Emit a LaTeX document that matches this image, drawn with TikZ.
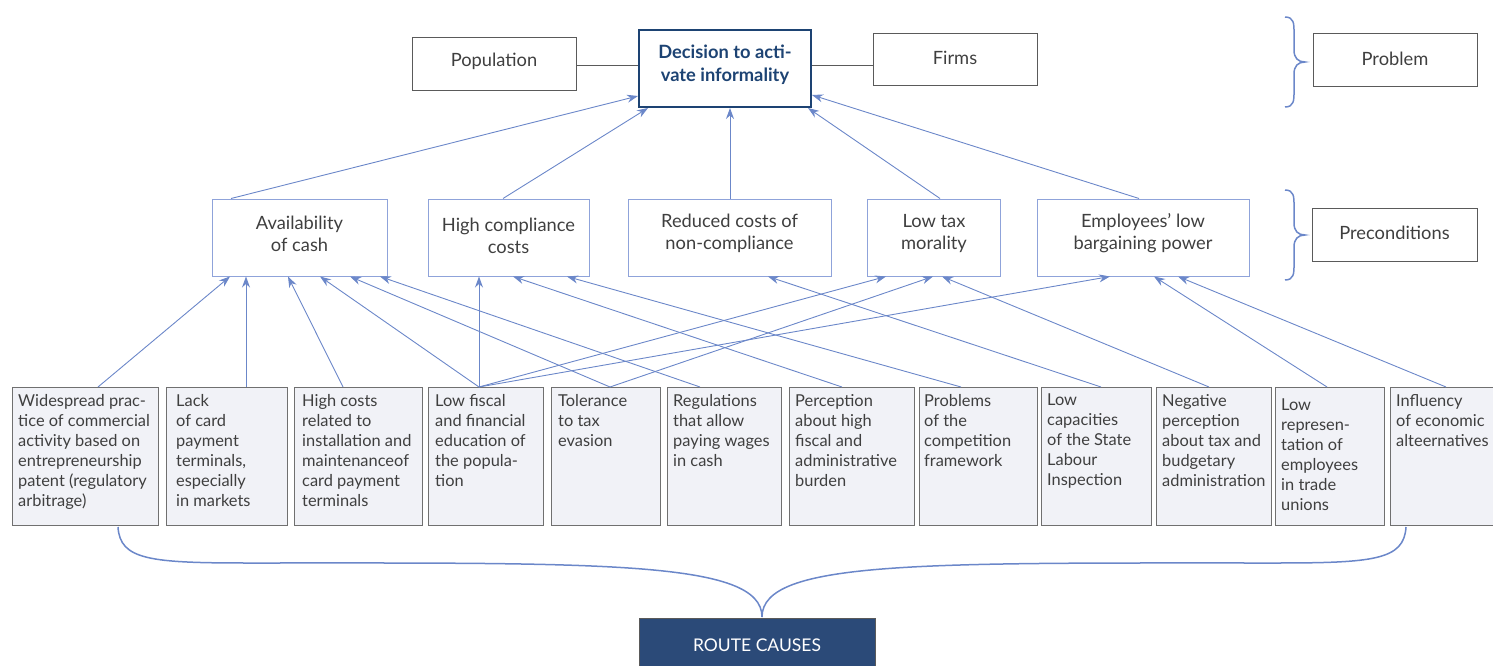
\documentclass[tikz,border=0pt]{standalone}
\usepackage{fontspec}
\setmainfont{Lato}
\usetikzlibrary{arrows.meta,calc}
\definecolor{conn}{HTML}{6B87C9}
\definecolor{pcborder}{HTML}{8FA3DA}
\definecolor{navy}{HTML}{1D4373}
\definecolor{navyfill}{HTML}{2B4A78}
\definecolor{causefill}{HTML}{F1F2F7}
\definecolor{causeborder}{HTML}{707070}
\definecolor{grayborder}{HTML}{5A5A5A}
\definecolor{txt}{HTML}{3F3F3F}
\begin{document}
\begin{tikzpicture}[x=1pt,y=-1pt,
  graybox/.style={draw=grayborder, line width=1pt, inner sep=0pt},
  decbox/.style={draw=navy, line width=2pt, inner sep=0pt},
  pcbox/.style={draw=pcborder, line width=1pt, inner sep=0pt},
  boxtext/.style={text=txt, align=center, inner sep=0pt,
    font=\fontsize{18.3}{22}\selectfont},
  dectext/.style={text=navy, align=center, inner sep=0pt,
    font=\fontsize{18.3}{23}\selectfont\bfseries},
  causebox/.style={draw=causeborder, line width=1.3pt, fill=causefill,
    anchor=north west, inner sep=0pt, minimum height=138pt},
  causetext/.style={anchor=north west, inner sep=0pt, align=left, text=txt,
    font=\fontsize{16.4}{20}\selectfont},
  arr/.style={-{Stealth[length=11pt,width=8pt]}, draw=conn, line width=0.9pt},
  link/.style={draw=grayborder, line width=0.8pt},
  brace/.style={draw=conn, line width=1.5pt}
]
\useasboundingbox (0,0) rectangle (1493,666);

% top row
\node[graybox, minimum width=164pt, minimum height=53pt] (pop) at (494,64.5) {};
\node[boxtext] (popt) at ($(pop)+(0,-3)$) {Population};
\node[decbox, minimum width=172pt, minimum height=77pt] (dec) at (725,68.5) {};
\node[dectext] (dect) at ($(dec)+(0,-4)$) {Decision to acti-\\vate informality};
\node[graybox, minimum width=164pt, minimum height=52pt] (firms) at (955,60) {};
\node[boxtext] (firmst) at ($(firms)+(0,-2)$) {Firms};
\node[graybox, minimum width=164pt, minimum height=53pt] (prob) at (1395,60.5) {};
\node[boxtext] (probt) at ($(prob)+(0,-2)$) {Problem};
\node[graybox, minimum width=165pt, minimum height=53pt] (precond) at (1394.5,234.5) {};
\node[boxtext] (precondt) at ($(precond)+(0,-2)$) {Preconditions};

\draw[link] (pop.east |- 0,65) -- (dec.west |- 0,65);
\draw[link] (dec.east |- 0,65) -- (firms.west |- 0,65);

% preconditions
\node[pcbox, minimum width=175pt, minimum height=77pt] (A) at (299.5,237.5) {};
\node[boxtext] (At) at ($(A)+(0,-4)$) {Availability\\of cash};
\node[pcbox, minimum width=161pt, minimum height=77pt] (B) at (508.5,237.5) {};
\node[boxtext] (Bt) at ($(B)+(0,-2)$) {High compliance\\costs};
\node[pcbox, minimum width=203pt, minimum height=77pt] (C) at (729.5,237.5) {};
\node[boxtext] (Ct) at ($(C)+(0,-4)$) {Reduced costs of\\non-compliance};
\node[pcbox, minimum width=133pt, minimum height=77pt] (D) at (934,237.5) {};
\node[boxtext] (Dt) at ($(D)+(0,-4)$) {Low tax\\morality};
\node[pcbox, minimum width=212pt, minimum height=77pt] (E) at (1143,237.5) {};
\node[boxtext] (Et) at ($(E)+(0,-4)$) {Employees’ low\\bargaining power};

% causes
\node[causebox, minimum width=146pt] (c1) at (12,387) {};
\node[causebox, minimum width=121pt] (c2) at (166,387) {};
\node[causebox, minimum width=128pt] (c3) at (294,387) {};
\node[causebox, minimum width=115pt] (c4) at (428,387) {};
\node[causebox, minimum width=109pt] (c5) at (551,387) {};
\node[causebox, minimum width=114pt] (c6) at (667,387) {};
\node[causebox, minimum width=125pt] (c7) at (789,387) {};
\node[causebox, minimum width=118pt] (c8) at (919,387) {};
\node[causebox, minimum width=110pt] (c9) at (1041,387) {};
\node[causebox, minimum width=115pt] (c10) at (1156,387) {};
\node[causebox, minimum width=109pt] (c11) at (1275,387) {};
\node[causebox, minimum width=103pt] (c12) at (1390,387) {};

\node[causetext] (t1) at ($(c1.north west)+(6,7)$) {Widespread prac-\\tice of commercial\\activity based on\\entrepreneurship\\patent (regulatory\\arbitrage)};
\node[causetext] (t2) at ($(c2.north west)+(10,7)$) {Lack\\of card\\payment\\terminals,\\especially\\in markets};
\node[causetext] (t3) at ($(c3.north west)+(8,7)$) {High costs\\related to\\installation and\\maintenanceof\\card payment\\terminals};
\node[causetext] (t4) at ($(c4.north west)+(7,7)$) {Low fiscal\\and financial\\education of\\the popula-\\tion};
\node[causetext] (t5) at ($(c5.north west)+(7,7)$) {Tolerance\\to tax\\evasion};
\node[causetext] (t6) at ($(c6.north west)+(6,7)$) {Regulations\\that allow\\paying wages\\in cash};
\node[causetext] (t7) at ($(c7.north west)+(6,7)$) {Perception\\about high\\fiscal and\\administrative\\burden};
\node[causetext] (t8) at ($(c8.north west)+(5,7)$) {Problems\\of the\\competition\\framework};
\node[causetext] (t9) at ($(c9.north west)+(6,7)$) {Low\\capacities\\of the State\\Labour\\Inspection};
\node[causetext] (t10) at ($(c10.north west)+(6,7)$) {Negative\\perception\\about tax and\\budgetary\\administration};
\node[causetext] (t11) at ($(c11.north west)+(6,12)$) {Low\\represen-\\tation of\\employees\\in trade\\unions};
\node[causetext] (t12) at ($(c12.north west)+(6,7)$) {Influency\\of economic\\alteernatives};

% arrows: causes -> preconditions
\draw[arr] (c1.north -| 98,0) -- (A.south -| 230,0);
\draw[arr] (c2.north -| 246,0) -- (A.south -| 246,0);
\draw[arr] (c3.north -| 343,0) -- (A.south -| 288,0);
\draw[arr] (c4.north -| 479,0) -- (A.south -| 320,0);
\draw[arr] (c5.north -| 610,0) -- (A.south -| 350,0);
\draw[arr] (c6.north -| 700,0) -- (A.south -| 380,0);
\draw[arr] (c4.north -| 479,0) -- (B.south -| 479,0);
\draw[arr] (c7.north -| 842,0) -- (B.south -| 513,0);
\draw[arr] (c8.north -| 961,0) -- (B.south -| 567,0);
\draw[arr] (c9.north -| 1101,0) -- (C.south -| 768,0);
\draw[arr] (c4.north -| 479,0) -- (D.south -| 886,0);
\draw[arr] (c5.north -| 610,0) -- (D.south -| 933,0);
\draw[arr] (c10.north -| 1209,0) -- (D.south -| 942,0);
\draw[arr] (c4.north -| 479,0) -- (E.south -| 1110,0);
\draw[arr] (c11.north -| 1327,0) -- (E.south -| 1154,0);
\draw[arr] (c12.north -| 1446,0) -- (E.south -| 1178,0);

% arrows: preconditions -> decision
\draw[arr] (A.north -| 231,0) -- (dec.west |- 0,96);
\draw[arr] (B.north -| 503,0) -- (dec.south -| 648,0);
\draw[arr] (C.north -| 730,0) -- (dec.south -| 730,0);
\draw[arr] (D.north -| 940,0) -- (dec.south -| 808,0);
\draw[arr] (E.north -| 1139,0) -- (dec.east |- 0,95);

% side braces
\draw[brace] (1285,17) .. controls (1294,17) and (1294,24) .. (1294,32) -- (1294,50)
  .. controls (1294,58) and (1298,62) .. (1305,62)
  .. controls (1298,62) and (1294,66) .. (1294,74) -- (1294,92)
  .. controls (1294,100) and (1294,107) .. (1285,107);
\draw[brace] (1285,190) .. controls (1294,190) and (1294,197) .. (1294,205) -- (1294,223)
  .. controls (1294,231) and (1298,235) .. (1305,235)
  .. controls (1298,235) and (1294,239) .. (1294,247) -- (1294,265)
  .. controls (1294,273) and (1294,280) .. (1285,280);

% bottom brace
\draw[brace] (118,527) .. controls (120,560) and (150,563) .. (250,563)
  .. controls (600,563) and (762,560) .. (762,617)
  .. controls (762,560) and (924,563) .. (1274,563)
  .. controls (1374,563) and (1404,560) .. (1406,527);

\node[fill=navyfill, draw=grayborder, line width=0.8pt, anchor=north, minimum width=236pt,
  minimum height=54pt, text=white, font=\fontsize{17.5}{20}\selectfont] (root) at (757,618) {ROUTE CAUSES};
\end{tikzpicture}
\end{document}
